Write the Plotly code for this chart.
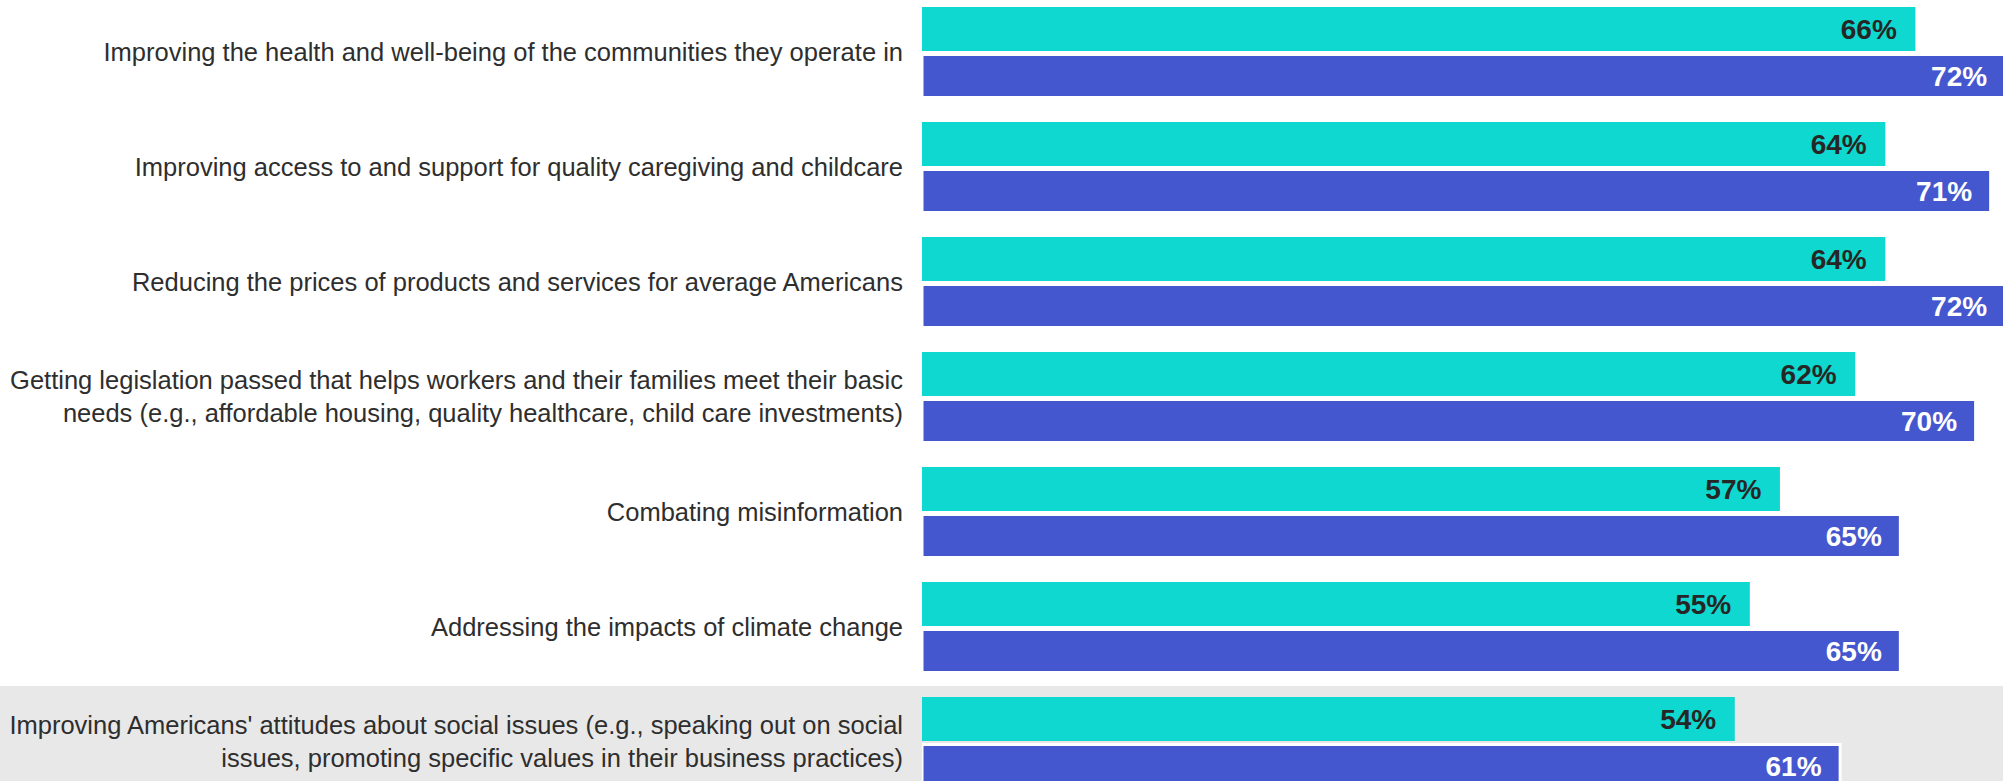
import plotly.graph_objects as go

# Statements, top to bottom
categories = [
    "Improving the health and well-being of the communities they operate in",
    "Improving access to and support for quality caregiving and childcare",
    "Reducing the prices of products and services for average Americans",
    "Getting legislation passed that helps workers and their families meet their basic<br>needs (e.g., affordable housing, quality healthcare, child care investments)",
    "Combating misinformation",
    "Addressing the impacts of climate change",
    "Improving Americans' attitudes about social issues (e.g., speaking out on social<br>issues, promoting specific values in their business practices)",
]

# Percent values for the two groups
teal_values = [66, 64, 64, 62, 57, 55, 54]
blue_values = [72, 71, 72, 70, 65, 65, 61]

TEAL = "#0ED8CF"
BLUE = "#4557CE"
NBSP = "\u00a0"

fig = go.Figure()

fig.add_trace(go.Bar(
    y=categories,
    x=teal_values,
    orientation="h",
    name="Group 1",
    offset=-0.391,
    width=0.383,
    marker=dict(color=TEAL, line=dict(width=0)),
    text=[f"{v}%{NBSP}{NBSP}" for v in teal_values],
    textposition="inside",
    insidetextanchor="end",
    textangle=0,
    constraintext="none",
    textfont=dict(family="Liberation Sans, Arial, sans-serif", size=28,
                  color="#262626", weight="bold"),
    cliponaxis=True,
    hoverinfo="skip",
))

fig.add_trace(go.Bar(
    y=categories,
    x=blue_values,
    orientation="h",
    name="Group 2",
    offset=0.022,
    width=0.374,
    marker=dict(color=BLUE, line=dict(width=3, color="white")),
    text=[f"{v}%{NBSP}{NBSP}" for v in blue_values],
    textposition="inside",
    insidetextanchor="end",
    textangle=0,
    constraintext="none",
    textfont=dict(family="Liberation Sans, Arial, sans-serif", size=28,
                  color="white", weight="bold"),
    cliponaxis=True,
    hoverinfo="skip",
))

# Highlight band behind the last statement
fig.add_shape(
    type="rect", xref="paper", yref="paper",
    x0=-0.86, x1=1.0, y0=0.0, y1=0.1216,
    fillcolor="#E8E8E8", line=dict(width=0), layer="below",
)

fig.update_layout(
    width=2003,
    height=781,
    margin=dict(l=922, r=0, t=0, b=0),
    barmode="overlay",
    showlegend=False,
    paper_bgcolor="white",
    plot_bgcolor="rgba(0,0,0,0)",
    font=dict(family="Liberation Sans, Arial, sans-serif", color="#333333"),
)

fig.update_xaxes(
    range=[0, 71.82],
    showgrid=False,
    zeroline=False,
    showticklabels=False,
    showline=False,
    fixedrange=True,
)

fig.update_yaxes(
    type="category",
    categoryorder="array",
    categoryarray=categories,
    range=[6.339, -0.452],
    showgrid=False,
    zeroline=False,
    showline=False,
    ticks="",
    ticklabelstandoff=18,
    tickfont=dict(size=25.5, color="#2E2E2E",
                  family="Liberation Sans, Arial, sans-serif"),
    fixedrange=True,
)

fig.write_html("out.html", config={"displayModeBar": False})
